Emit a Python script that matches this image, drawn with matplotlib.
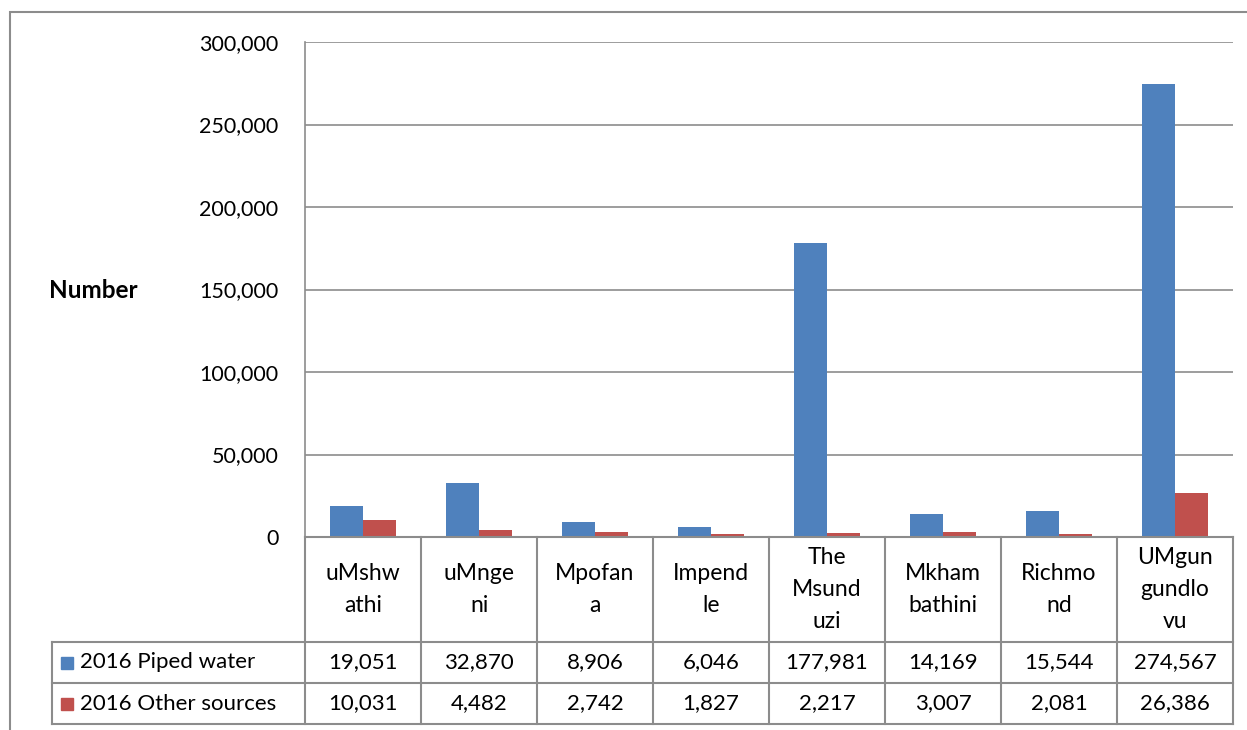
import matplotlib.pyplot as plt
from matplotlib.patches import Rectangle
from matplotlib.lines import Line2D
import numpy as np

# data
categories = ['uMshw\nathi', 'uMnge\nni', 'Mpofan\na', 'Impend\nle',
              'The\nMsund\nuzi', 'Mkham\nbathini', 'Richmo\nnd', 'UMgun\ngundlo\nvu']
piped = [19051, 32870, 8906, 6046, 177981, 14169, 15544, 274567]
other = [10031, 4482, 2742, 1827, 2217, 3007, 2081, 26386]
series_names = ['2016 Piped water', '2016 Other sources']
yticks = [0, 50000, 100000, 150000, 200000, 250000, 300000]

BLUE = '#4F81BD'
RED = '#C0504D'
GRID = '#8C8C8C'
W, H = 1247, 730

plt.rcParams['font.family'] = ['Lato', 'DejaVu Sans']

fig = plt.figure(figsize=(W / 100, H / 100), dpi=100)


def fx(x):
    return x / W


def fy(y):
    return 1 - y / H


# outer chart border (cropped on right and bottom)
fig.patches.append(Rectangle((fx(10), fy(800)), 2.0, fy(12) - fy(800),
                             transform=fig.transFigure, fill=False,
                             edgecolor=GRID, lw=1.5))

left, right, top, bottom = 305, 1233, 42, 537
ax = fig.add_axes([fx(left), fy(bottom), fx(right) - fx(left), fy(top) - fy(bottom)])

x = np.arange(len(categories))
bw = 0.285
ax.bar(x - bw / 2, piped, bw, color=BLUE, zorder=3)
ax.bar(x + bw / 2, other, bw, color=RED, zorder=3)

ax.set_xlim(-0.5, len(categories) - 0.5)
ax.set_ylim(0, 300000)
ax.set_yticks(yticks)
ax.set_yticklabels(['0' if v == 0 else f'{v:,}' for v in yticks], fontsize=15.5)
ax.tick_params(axis='y', length=0, pad=19)
ax.set_xticks([])
ax.yaxis.grid(True, color=GRID, lw=1.2, zorder=0)
for s in ['top', 'right', 'bottom']:
    ax.spines[s].set_visible(False)
ax.spines['left'].set_color(GRID)
ax.spines['left'].set_linewidth(1.2)

fig.text(fx(93), fy(290), 'Number', fontsize=17.5, fontweight='bold',
         ha='center', va='center')

# data table under the axis
col_w = (right - left) / len(categories)
row_cat = (537, 642)
row1 = (642, 683)
row2 = (683, 724)
tab_left = 52


def hline(y, x0, x1):
    fig.add_artist(Line2D([fx(x0), fx(x1)], [fy(y), fy(y)], color=GRID, lw=1.5,
                          transform=fig.transFigure))


def vline(xp, y0, y1):
    fig.add_artist(Line2D([fx(xp), fx(xp)], [fy(y0), fy(y1)], color=GRID, lw=1.5,
                          transform=fig.transFigure))


hline(row_cat[0], left, right)
hline(row1[0], tab_left, right)
hline(row2[0], tab_left, right)
hline(row2[1], tab_left, right)
vline(tab_left, row1[0], row2[1])
for i in range(len(categories) + 1):
    vline(left + i * col_w, row_cat[0], row2[1])

for i, cat in enumerate(categories):
    cx = left + (i + 0.5) * col_w
    fig.text(fx(cx), fy((row_cat[0] + row_cat[1]) / 2), cat, fontsize=16.5,
             ha='center', va='center', linespacing=1.64)
    fig.text(fx(cx), fy((row1[0] + row1[1]) / 2), f'{piped[i]:,}', fontsize=16,
             ha='center', va='center')
    fig.text(fx(cx), fy((row2[0] + row2[1]) / 2), f'{other[i]:,}', fontsize=16,
             ha='center', va='center')

for (r0, r1), name, col in zip([row1, row2], series_names, [BLUE, RED]):
    cy = (r0 + r1) / 2
    fig.patches.append(Rectangle((fx(61), fy(cy + 6)), fx(12), fy(0) - fy(12),
                                 transform=fig.transFigure, color=col))
    fig.text(fx(80), fy(cy), name, fontsize=16, ha='left', va='center')

fig.savefig('out.png', dpi=100)
